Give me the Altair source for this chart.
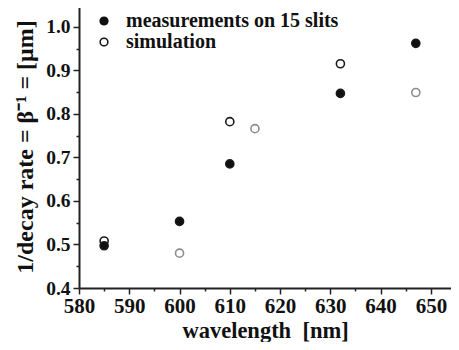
import altair as alt
import pandas as pd

# data
meas_wl = [585, 600, 610, 632, 647]
meas_val = [0.497, 0.553, 0.685, 0.847, 0.962]
sim_wl = [585, 600, 610, 615, 632, 647]
sim_val = [0.508, 0.480, 0.782, 0.766, 0.915, 0.849]
sim_tone = ["dark", "light", "dark", "light", "dark", "light"]

series_names = ["measurements on 15 slits", "simulation"]
x_ticks = list(range(580, 655, 5))
y_ticks = [round(0.4 + 0.05 * i, 2) for i in range(13)]

rows = []
for w, v, t in zip(sim_wl, sim_val, sim_tone):
    rows.append({"wl": w, "val": v, "series": series_names[1], "tone": t})
for w, v in zip(meas_wl, meas_val):
    rows.append({"wl": w, "val": v, "series": series_names[0], "tone": "dark"})
df = pd.DataFrame(rows)

FONT = "Liberation Serif"

x_axis = alt.Axis(
    values=x_ticks,
    title="wavelength\u00a0\u00a0[nm]",
    labelExpr="datum.value % 10 === 0 ? datum.label : ''",
    tickSize={"condition": {"test": "datum.value % 10 === 0", "value": 6}, "value": 3},
    labelPadding=1,
    labelFontSize=21,
    labelFlush=False,
    labelOverlap=False,
    titlePadding=3,
    titleFontSize=22.5,
)
y_axis = alt.Axis(
    values=y_ticks,
    title="1/decay rate = \u03b2\u207b\u00b9 = [\u03bcm]",
    labelExpr="abs(datum.value*10 - round(datum.value*10)) < 0.001 ? format(datum.value, '.1f') : ''",
    tickSize={"condition": {"test": "abs(datum.value*10 - round(datum.value*10)) < 0.001", "value": 6}, "value": 3},
    labelPadding=3,
    labelFontSize=19.5,
    labelFlush=False,
    labelOverlap=False,
    titlePadding=8,
    titleFontSize=24,
)

chart = alt.Chart(df).mark_point(size=65, strokeWidth=1.6, fillOpacity=1, opacity=1).encode(
    x=alt.X("wl:Q", scale=alt.Scale(domain=[580, 654], nice=False, zero=False), axis=x_axis),
    y=alt.Y("val:Q", scale=alt.Scale(domain=[0.4, 1.05], nice=False, zero=False), axis=y_axis),
    fill=alt.Fill(
        "series:N",
        scale=alt.Scale(domain=series_names, range=["#111111", "#ffffff"]),
        legend=alt.Legend(
            title=None, orient="none", legendX=15, legendY=6,
            labelFont=FONT, labelFontWeight="bold", labelFontSize=20, labelColor="#111",
            labelLimit=0,
            symbolType="circle", symbolSize=60, symbolStrokeColor="#111", symbolStrokeWidth=1.5,
            labelOffset=12, rowPadding=1, padding=0,
        ),
    ),
    stroke=alt.Stroke(
        "tone:N",
        scale=alt.Scale(domain=["dark", "light"], range=["#1a1a1a", "#8c8c8c"]),
        legend=None,
    ),
).properties(
    width=443, height=334,
    autosize=alt.AutoSizeParams(type="fit", contains="padding"),
    padding={"left": 5, "top": -3, "right": 0, "bottom": 0},
).configure(font=FONT).configure_view(stroke=None).configure_axis(
    grid=False,
    domainColor="#222", domainWidth=2,
    tickColor="#222", tickWidth=1.5,
    labelFont=FONT, labelFontWeight="bold", labelColor="#111",
    titleFont=FONT, titleFontWeight="bold", titleColor="#111",
)

chart.save("out.html", embed_options={"renderer": "svg", "actions": False})
